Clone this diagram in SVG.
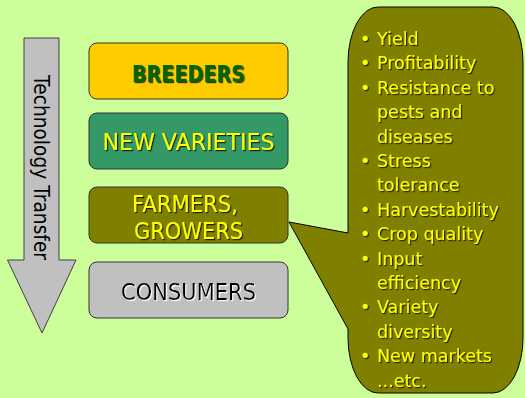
<svg xmlns="http://www.w3.org/2000/svg" width="525" height="398" viewBox="0 0 525 398">
<defs>
<filter id="sh" x="-10%" y="-20%" width="120%" height="150%"><feDropShadow dx="1.2" dy="1.2" stdDeviation="0.2" flood-color="#000" flood-opacity="0.75"/></filter>
<filter id="shw" x="-10%" y="-20%" width="120%" height="150%"><feDropShadow dx="1.2" dy="1.2" stdDeviation="0.2" flood-color="#fff" flood-opacity="0.9"/></filter>
<style>
.box{stroke:#333;stroke-width:1}
.bt{font-family:"DejaVu Sans","Liberation Sans",sans-serif;font-size:23px;text-anchor:middle}
.ct{font-family:"DejaVu Sans","Liberation Sans",sans-serif;font-size:17.5px;fill:#ffff00}
</style>
</defs>
<rect width="525" height="398" fill="#ccff99"/>
<g id="arrow">
<polygon points="24,38 59,38 59,260 76,260 42,333 7.5,260 24,260" fill="#c0c0c0" stroke="#404040" stroke-width="1"/>
<text transform="translate(33.5,167.5) rotate(90)" x="0" y="0" text-anchor="middle" font-family="DejaVu Sans, Liberation Sans, sans-serif" font-size="21" fill="#000" textLength="185" lengthAdjust="spacingAndGlyphs">Technology Transfer</text>
</g>
<g id="breeders">
<rect class="box" x="89" y="43" width="199" height="56" rx="8" fill="#ffcc00"/>
<text class="bt" x="188.5" y="82" fill="#006600" font-weight="bold" textLength="113" lengthAdjust="spacingAndGlyphs" filter="url(#sh)">BREEDERS</text>
</g>
<g id="new-varieties">
<rect class="box" x="89" y="113" width="199" height="56" rx="8" fill="#339966"/>
<text class="bt" x="188.5" y="150" fill="#ffff00" textLength="172" lengthAdjust="spacingAndGlyphs" filter="url(#sh)">NEW VARIETIES</text>
</g>
<g id="farmers">
<rect class="box" x="89" y="187" width="199" height="56" rx="8" fill="#808000"/>
<text class="bt" x="185" y="212" fill="#ffff00" textLength="106" lengthAdjust="spacingAndGlyphs" filter="url(#sh)">FARMERS,</text>
<text class="bt" x="188.5" y="239" fill="#ffff00" textLength="109" lengthAdjust="spacingAndGlyphs" filter="url(#sh)">GROWERS</text>
</g>
<g id="consumers">
<rect class="box" x="89" y="262" width="199" height="56" rx="8" fill="#c0c0c0"/>
<text class="bt" x="188.5" y="300" fill="#000" textLength="135" lengthAdjust="spacingAndGlyphs" filter="url(#shw)">CONSUMERS</text>
</g>
<g id="callout">
<path d="M378 7 H493 A30 55 0 0 1 523 62 V338 A30 55 0 0 1 493 393 H378 A30 55 0 0 1 348 338 V329 L289 222 L348 233 V62 A30 55 0 0 1 378 7 Z" fill="#808000" stroke="#000" stroke-width="1"/>
<g filter="url(#sh)">
<text class="ct" x="360" y="45">•</text><text class="ct" x="377" y="45">Yield</text>
<text class="ct" x="360" y="69.4">•</text><text class="ct" x="377" y="69.4">Profitability</text>
<text class="ct" x="360" y="93.8">•</text><text class="ct" x="377" y="93.8">Resistance to</text>
<text class="ct" x="377" y="118.2">pests and</text>
<text class="ct" x="377" y="142.6">diseases</text>
<text class="ct" x="360" y="167">•</text><text class="ct" x="377" y="167">Stress</text>
<text class="ct" x="377" y="191.4">tolerance</text>
<text class="ct" x="360" y="215.8">•</text><text class="ct" x="377" y="215.8">Harvestability</text>
<text class="ct" x="360" y="240.2">•</text><text class="ct" x="377" y="240.2">Crop quality</text>
<text class="ct" x="360" y="264.6">•</text><text class="ct" x="377" y="264.6">Input</text>
<text class="ct" x="377" y="289">efficiency</text>
<text class="ct" x="360" y="313.4">•</text><text class="ct" x="377" y="313.4">Variety</text>
<text class="ct" x="377" y="337.8">diversity</text>
<text class="ct" x="360" y="362.2">•</text><text class="ct" x="377" y="362.2">New markets</text>
<text class="ct" x="377" y="386.6">...etc.</text>
</g>
</g>
</svg>
